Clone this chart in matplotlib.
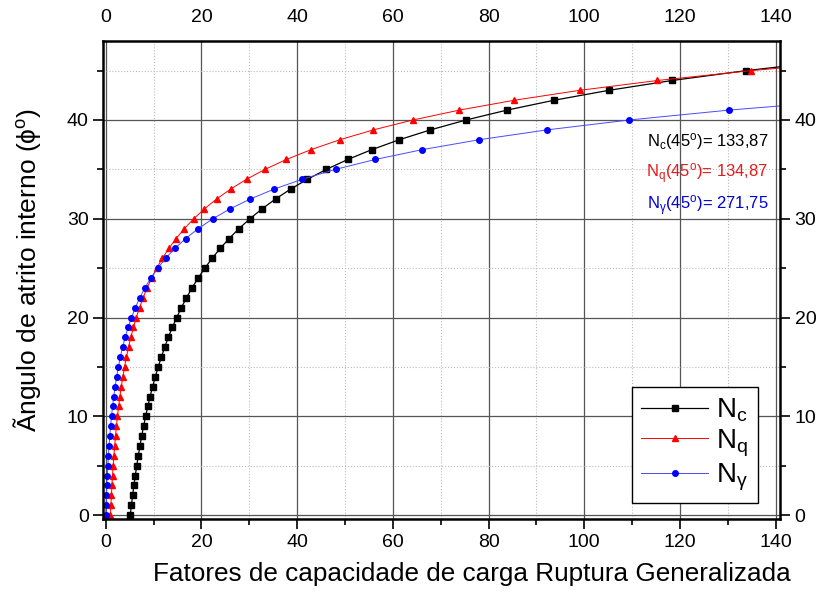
import matplotlib
matplotlib.use("Agg")
import matplotlib.pyplot as plt
from matplotlib.ticker import MultipleLocator

plt.rcParams["font.family"] = ["Liberation Sans", "DejaVu Sans"]
plt.rcParams["mathtext.fontset"] = "custom"
plt.rcParams["mathtext.rm"] = "Liberation Sans"
plt.rcParams["mathtext.it"] = "Liberation Sans"
plt.rcParams["mathtext.default"] = "regular"

# friction angle (deg) and bearing capacity factors
phi = list(range(0, 51))
Nc = [5.14, 5.38, 5.63, 5.90, 6.19, 6.49, 6.81, 7.16, 7.53, 7.92,
      8.35, 8.80, 9.28, 9.81, 10.37, 10.98, 11.63, 12.34, 13.10, 13.93,
      14.83, 15.82, 16.88, 18.05, 19.32, 20.72, 22.25, 23.94, 25.80, 27.86,
      30.14, 32.67, 35.49, 38.64, 42.16, 46.12, 50.59, 55.63, 61.35, 67.87,
      75.31, 83.86, 93.71, 105.11, 118.37, 133.87, 152.10, 173.64, 199.26, 229.93,
      266.89]
Nq = [1.00, 1.09, 1.20, 1.31, 1.43, 1.57, 1.72, 1.88, 2.06, 2.25,
      2.47, 2.71, 2.97, 3.26, 3.59, 3.94, 4.34, 4.77, 5.26, 5.80,
      6.40, 7.07, 7.82, 8.66, 9.60, 10.66, 11.85, 13.20, 14.72, 16.44,
      18.40, 20.63, 23.18, 26.09, 29.44, 33.30, 37.75, 42.92, 48.93, 55.96,
      64.20, 73.90, 85.38, 99.02, 115.31, 134.87, 158.51, 187.21, 222.31, 265.51,
      319.07]
Ng = [0.00, 0.07, 0.15, 0.24, 0.34, 0.45, 0.57, 0.71, 0.86, 1.03,
      1.22, 1.44, 1.69, 1.97, 2.29, 2.65, 3.06, 3.53, 4.07, 4.68,
      5.39, 6.20, 7.13, 8.20, 9.44, 10.88, 12.54, 14.47, 16.72, 19.34,
      22.40, 25.99, 30.22, 35.19, 41.06, 48.03, 56.31, 66.19, 78.03, 92.25,
      109.41, 130.22, 155.55, 186.54, 224.64, 271.75, 330.35, 403.67, 496.01, 613.16,
      762.89]

notes = [("$N_c(45^o)$= 133,87", "black", 37.8),
         ("$N_q(45^o)$= 134,87", "#e41a1c", 34.6),
         ("$N_\\gamma(45^o)$= 271,75", "#0000dd", 31.3)]

fig = plt.figure(figsize=(8.21, 5.93), dpi=100)
ax = fig.add_axes([0.1258, 0.1248, 0.8242, 0.8061])

ax.plot(Nc, phi, color="black", lw=0.9, marker="s", ms=4, label="$N_c$")
ax.plot(Nq, phi, color="red", lw=0.7, marker="^", ms=5, label="$N_q$")
ax.plot(Ng, phi, color="#4a4aff", lw=0.7, marker="o", ms=4, mfc="blue", mec="blue",
        label="$N_\\gamma$")

ax.set_xlim(-0.5, 140.9)
ax.set_ylim(-0.4, 48)
ax.xaxis.set_major_locator(MultipleLocator(20))
ax.xaxis.set_minor_locator(MultipleLocator(10))
ax.yaxis.set_major_locator(MultipleLocator(10))
ax.yaxis.set_minor_locator(MultipleLocator(5))
ax.grid(which="major", color="#555555", lw=0.9, ls="-")
ax.grid(which="minor", color="#bbbbbb", lw=0.8, ls=":")
ax.set_axisbelow(True)

ax.tick_params(which="both", direction="out", top=False, right=True,
               labeltop=True, labelright=True, labelsize=14, width=1.2)
ax.tick_params(which="major", length=7)
ax.tick_params(which="minor", length=4)
for s in ax.spines.values():
    s.set_linewidth(1.8)

ax.set_xlabel("Fatores de capacidade de carga Ruptura Generalizada", fontsize=18.8, labelpad=8)
ax.xaxis.label.set_x(0.545)
ax.set_ylabel("Ãngulo de atrito interno ($\\phi^o$)", fontsize=19, labelpad=17)
ax.yaxis.label.set_y(0.521)

for txt, col, y in notes:
    ax.text(138.5, y, txt, color=col, fontsize=12, ha="right", va="center")

leg = ax.legend(loc="lower right", bbox_to_anchor=(0.9675, 0.0335), fontsize=20,
                handlelength=2.4, fancybox=False, framealpha=1, edgecolor="black",
                labelspacing=0.12, borderpad=0.35, handletextpad=0.3, borderaxespad=0)
leg.get_frame().set_linewidth(1.0)

fig.savefig("out.png", dpi=100)
